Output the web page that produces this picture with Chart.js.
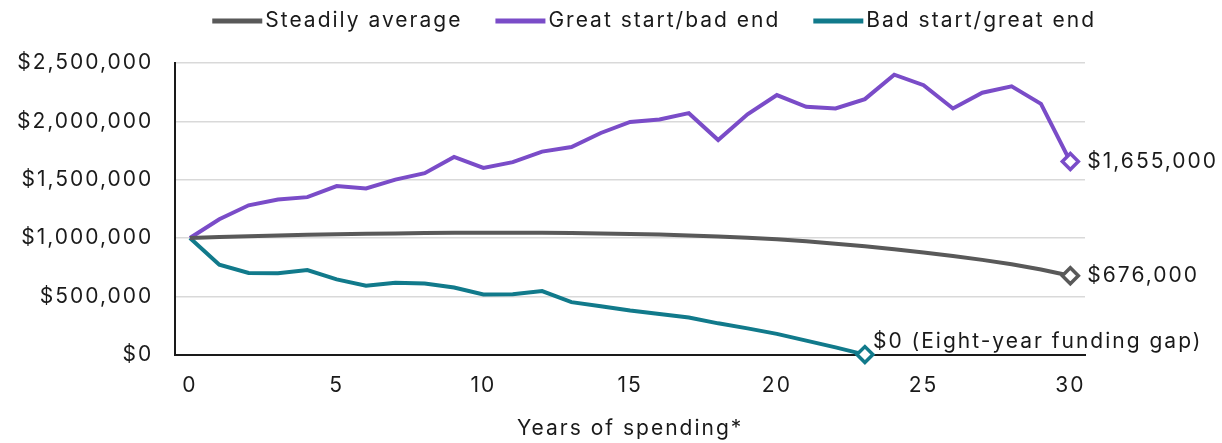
<!DOCTYPE html>
<html>
<head>
<meta charset="utf-8">
<script src="https://cdn.jsdelivr.net/npm/chart.js@4/dist/chart.umd.min.js"></script>
<style>
  html, body { margin: 0; padding: 0; background: #fff; }
  #wrap { width: 1222px; height: 443px; position: relative; }
</style>
</head>
<body>
<div id="wrap"><canvas id="spendChart"></canvas></div>
<script>
// years 0..30
const years = Array.from({ length: 31 }, (_, i) => i);
const xTicks = [0, 5, 10, 15, 20, 25, 30];
const yTicks = [0, 500000, 1000000, 1500000, 2000000, 2500000];

const seriesNames = ["Steadily average", "Great start/bad end", "Bad start/great end"];

const steadyValues = [
  1000000, 1008000, 1015000, 1021000, 1027000, 1032000, 1036000, 1039000,
  1042000, 1044000, 1045000, 1045000, 1044000, 1042000, 1039000, 1035000,
  1029000, 1022000, 1013000, 1002000, 989000, 972000, 951000, 928000,
  903000, 876000, 846000, 812000, 775000, 730000, 676000,
];
const greatStartValues = [
  1000000, 1160000, 1280000, 1330000, 1350000, 1445000, 1425000, 1500000,
  1555000, 1695000, 1600000, 1650000, 1740000, 1780000, 1900000, 1995000,
  2015000, 2070000, 1840000, 2060000, 2225000, 2125000, 2110000, 2190000,
  2400000, 2310000, 2110000, 2245000, 2300000, 2150000, 1655000,
];
// runs out of money in year 23
const badStartValues = [
  1000000, 770000, 700000, 698000, 725000, 645000, 590000, 615000,
  610000, 575000, 515000, 518000, 545000, 450000, 415000, 378000,
  348000, 318000, 268000, 225000, 178000, 120000, 62000, 0,
];

const endLabels = ["$1,655,000", "$676,000", "$0 (Eight-year funding gap)"];

const colors = ["#595959", "#7a4cc8", "#117a8b"];
const FONT = "Inter, 'Noto Sans', sans-serif";
const TEXT = "#1a1a1a";

function toPoints(values) {
  return values.map((v, i) => ({ x: years[i], y: v }));
}

function lastPointOnly(size) {
  return (ctx) => (ctx.dataIndex === ctx.dataset.data.length - 1 ? size : 0);
}

// 原圖字距較寬，量測與繪製前都先設定 letterSpacing
const wideText = {
  id: "wideText",
  beforeUpdate(chart) { chart.ctx.letterSpacing = "2px"; },
  beforeDraw(chart) { chart.ctx.letterSpacing = "2px"; },
};

// 圖例：線段 + 文字，自己畫比較好控制位置
const topLegend = {
  id: "topLegend",
  afterDraw(chart) {
    const ctx = chart.ctx;
    ctx.save();
    ctx.font = "21px " + FONT;
    ctx.textBaseline = "middle";
    const y = 21;
    let x = chart.chartArea.left + 37;
    chart.data.datasets.forEach((ds) => {
      ctx.fillStyle = ds.borderColor;
      ctx.fillRect(x, y - 2.5, 50, 5);
      x += 53;
      ctx.fillStyle = TEXT;
      ctx.fillText(ds.label, x, y);
      x += ctx.measureText(ds.label).width + 33;
    });
    ctx.restore();
  },
};

// 各線最後一點旁的數值標籤
const endValueLabels = {
  id: "endValueLabels",
  afterDatasetsDraw(chart) {
    const ctx = chart.ctx;
    const order = [1, 0, 2]; // endLabels order: great, steady, bad
    ctx.save();
    ctx.font = "21px " + FONT;
    ctx.textBaseline = "middle";
    ctx.fillStyle = TEXT;
    order.forEach((dsIndex, k) => {
      const meta = chart.getDatasetMeta(dsIndex);
      const pt = meta.data[meta.data.length - 1];
      if (dsIndex === 2) {
        ctx.fillText(endLabels[k], pt.x + 8, pt.y - 13);
      } else {
        ctx.fillText(endLabels[k], pt.x + 17, pt.y);
      }
    });
    ctx.restore();
  },
};

new Chart(document.getElementById("spendChart"), {
  type: "line",
  data: {
    datasets: [
      { label: seriesNames[0], data: toPoints(steadyValues), borderColor: colors[0] },
      { label: seriesNames[1], data: toPoints(greatStartValues), borderColor: colors[1] },
      { label: seriesNames[2], data: toPoints(badStartValues), borderColor: colors[2] },
    ].map((ds) => ({
      ...ds,
      backgroundColor: "#ffffff",
      borderWidth: 4,
      tension: 0,
      fill: false,
      pointStyle: "rectRot",
      pointRadius: lastPointOnly(8),
      pointBorderWidth: 3.5,
      pointBorderColor: ds.borderColor,
      pointBackgroundColor: "#ffffff",
      clip: false,
    })),
  },
  options: {
    responsive: true,
    maintainAspectRatio: false,
    animation: false,
    layout: { padding: { top: 63, left: -5, right: 137, bottom: 2 } },
    plugins: {
      legend: { display: false },
      tooltip: { enabled: false },
    },
    scales: {
      x: {
        type: "linear",
        min: -0.5,
        max: 30.5,
        afterBuildTicks: (axis) => {
          axis.ticks = xTicks.map((v) => ({ value: v }));
        },
        grid: { display: false, drawTicks: false, tickLength: 0 },
        border: { display: true, color: TEXT, width: 2 },
        ticks: {
          color: TEXT,
          font: { family: FONT, size: 21 },
          padding: 18,
          maxRotation: 0,
        },
        title: {
          display: true,
          text: "Years of spending*",
          color: TEXT,
          font: { family: FONT, size: 21 },
          padding: { top: 0, bottom: 0 },
        },
      },
      y: {
        min: 0,
        max: 2500000,
        afterBuildTicks: (axis) => {
          axis.ticks = yTicks.map((v) => ({ value: v }));
        },
        grid: { color: "#d9d9d9", lineWidth: 1.5, drawTicks: false, tickLength: 0 },
        border: { display: true, color: TEXT, width: 2 },
        ticks: {
          color: TEXT,
          font: { family: FONT, size: 21 },
          padding: 22,
          callback: (v) => "$" + v.toLocaleString("en-US"),
        },
      },
    },
  },
  plugins: [wideText, topLegend, endValueLabels],
});
</script>
</body>
</html>
